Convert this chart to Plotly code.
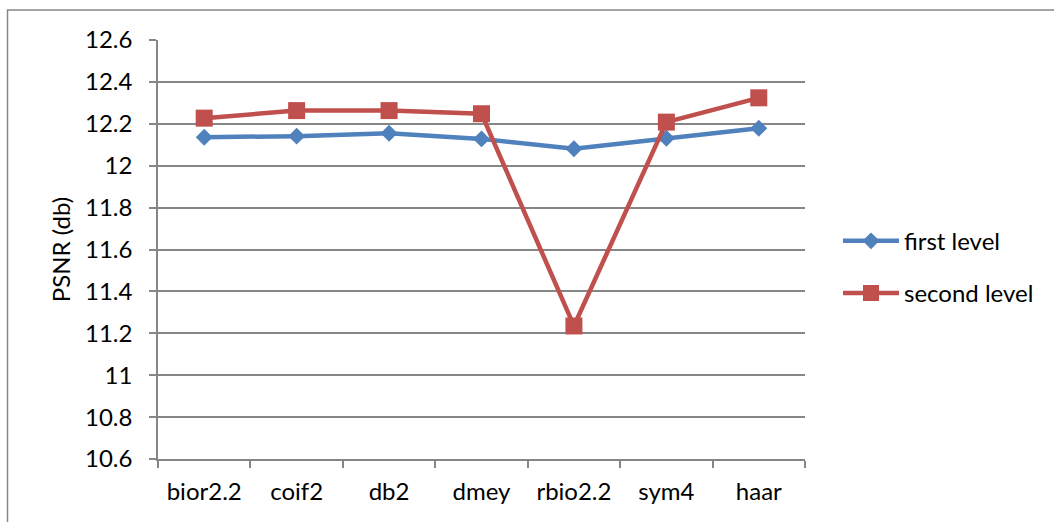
import plotly.graph_objects as go

# Wavelet families compared
wavelets = ["bior2.2", "coif2", "db2", "dmey", "rbio2.2", "sym4", "haar"]

# PSNR (db) after one and two decomposition levels
first_level = [12.136, 12.141, 12.155, 12.128, 12.081, 12.131, 12.179]
second_level = [12.227, 12.263, 12.263, 12.248, 11.235, 12.208, 12.324]

y_ticks = [10.6, 10.8, 11.0, 11.2, 11.4, 11.6, 11.8, 12.0, 12.2, 12.4, 12.6]

W, H = 1054, 522
L, R, T, B = 158, 805, 39.5, 459  # plot area in pixels

FONT = "Lato, 'Open Sans', sans-serif"
FSIZE = 24
GRID = "#868686"

fig = go.Figure()
fig.add_trace(go.Scatter(
    x=wavelets, y=first_level, name="first level", mode="lines+markers",
    legendgroup="first",
    line=dict(color="#4F81BD", width=4.5),
    marker=dict(symbol="diamond", size=13, color="#4F81BD"),
))
fig.add_trace(go.Scatter(
    x=wavelets, y=second_level, name="second level", mode="lines+markers",
    legendgroup="second",
    line=dict(color="#C0504D", width=4.5),
    marker=dict(symbol="square", size=17, color="#C0504D"),
))


def px_to_paper_x(px):
    return (px - L) / (R - L)


def px_to_paper_y(py):
    return (B - py) / (B - T)


# chart frame (left and top edges visible)
fig.add_shape(
    type="rect", xref="paper", yref="paper",
    x0=px_to_paper_x(7.5), x1=px_to_paper_x(W + 20),
    y0=px_to_paper_y(H + 20), y1=px_to_paper_y(9.5),
    line=dict(color=GRID, width=1.5), fillcolor="rgba(0,0,0,0)", layer="below",
)

fig.update_layout(
    width=W, height=H,
    margin=dict(l=L, r=W - R, t=T, b=H - B, pad=0),
    paper_bgcolor="white", plot_bgcolor="white",
    font=dict(family=FONT, size=FSIZE, color="#000000"),
    showlegend=True,
    legend=dict(
        x=px_to_paper_x(838), y=px_to_paper_y(267), xanchor="left", yanchor="middle",
        font=dict(family=FONT, size=FSIZE, color="#000000"),
        itemwidth=56, tracegroupgap=18, bgcolor="rgba(0,0,0,0)",
    ),
)
fig.update_xaxes(
    type="category", range=[-0.5, len(wavelets) - 0.5],
    showgrid=False, showline=True, linecolor=GRID, linewidth=1.5,
    ticks="outside", ticklen=7, tickcolor=GRID, tickwidth=1.5,
    tickson="boundaries", tickfont=dict(family=FONT, size=FSIZE),
    ticklabelstandoff=10,
)
fig.update_yaxes(
    range=[10.6, 12.6], tickvals=y_ticks, ticktext=[f"{v:g}" for v in y_ticks],
    showgrid=True, gridcolor=GRID, gridwidth=1.5,
    showline=True, linecolor=GRID, linewidth=1.5,
    ticks="outside", ticklen=7, tickcolor=GRID, tickwidth=1.5,
    tickfont=dict(family=FONT, size=FSIZE), ticklabelstandoff=12,
    title=dict(text="PSNR (db)", font=dict(family=FONT, size=FSIZE), standoff=8),
    zeroline=False,
)

fig.write_html("out.html")
